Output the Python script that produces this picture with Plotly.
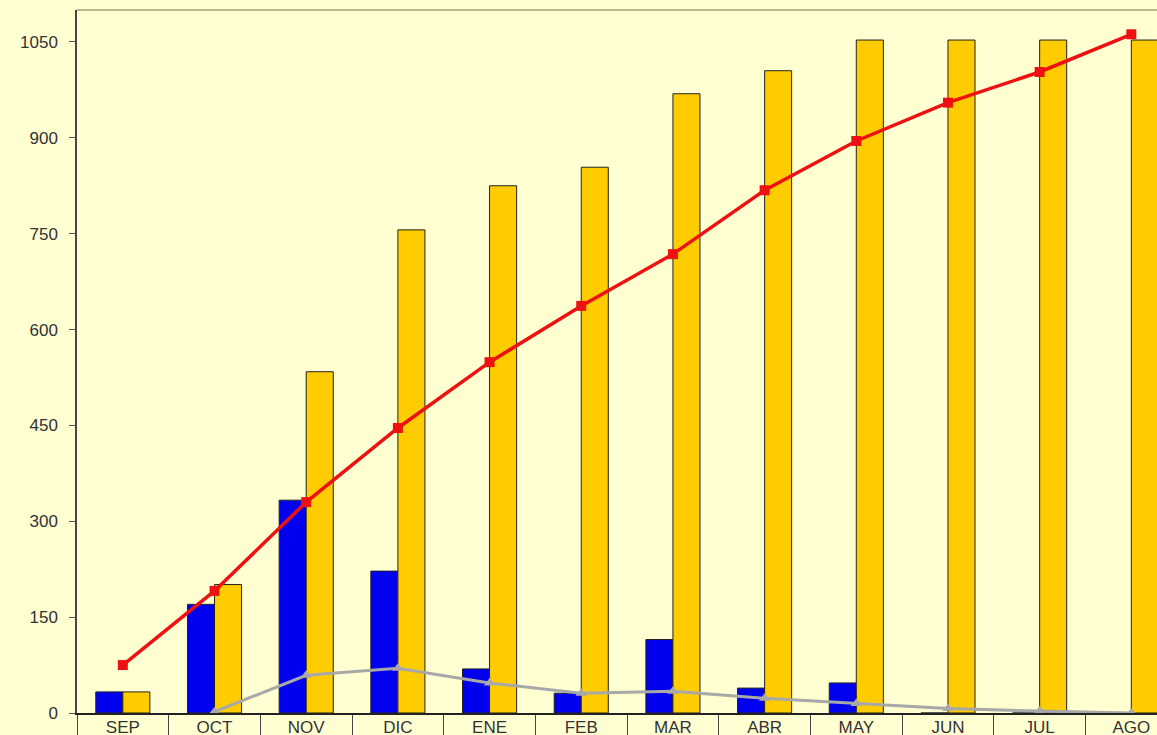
import plotly.graph_objects as go

months = ["SEP", "OCT", "NOV", "DIC", "ENE", "FEB", "MAR", "ABR", "MAY", "JUN", "JUL", "AGO"]
blue_vals = [33, 170, 333, 222, 69, 31, 115, 39, 47, 0, 0, 0]
yellow_vals = [33, 201, 534, 756, 825, 854, 969, 1005, 1053, 1053, 1053, 1053]
red_vals = [75, 191, 330, 446, 549, 637, 718, 818, 895, 955, 1003, 1062]
gray_months = months[1:]
gray_vals = [2, 59, 70, 47, 31, 34, 23, 15, 7, 3, 0]
y_ticks = [0, 150, 300, 450, 600, 750, 900, 1050]

BG = "#FFFFD2"

fig = go.Figure()
fig.add_trace(go.Bar(x=months, y=blue_vals, marker=dict(color="#0000EE", line=dict(color="#222222", width=1)), showlegend=False))
fig.add_trace(go.Bar(x=months, y=yellow_vals, marker=dict(color="#FFCC00", line=dict(color="#222222", width=1)), showlegend=False))
fig.add_trace(go.Scatter(x=gray_months, y=gray_vals, mode="lines+markers",
                         line=dict(color="#A8A8A8", width=3),
                         marker=dict(symbol="triangle-up", size=10, color="#A8A8A8"), showlegend=False))
fig.add_trace(go.Scatter(x=months, y=red_vals, mode="lines+markers",
                         line=dict(color="#EE1111", width=3.5),
                         marker=dict(symbol="square", size=10, color="#EE1111"), showlegend=False))

fig.update_layout(
    width=1157, height=735,
    margin=dict(l=77, r=0, t=10, b=22, autoexpand=False),
    paper_bgcolor=BG, plot_bgcolor=BG,
    barmode="group", bargap=0.41, bargroupgap=0,
    font=dict(family="Liberation Sans, Arial, sans-serif", size=16, color="#333333"),
    xaxis=dict(type="category", categoryorder="array", categoryarray=months,
               range=[-0.5, 11.28], showgrid=False, zeroline=False,
               showline=True, linecolor="#222222", linewidth=1.5,
               ticks="outside", tickson="boundaries", ticklen=25, tickcolor="#444444",
               ticklabelstandoff=-2, tickfont=dict(size=17, color="#333333")),
    yaxis=dict(range=[0, 1100], tickvals=y_ticks, showgrid=False, zeroline=False,
               showline=True, linecolor="#444444", linewidth=1.5,
               ticks="outside", ticklen=6, tickcolor="#555555",
               ticklabelstandoff=8, tickfont=dict(size=17, color="#333333")),
    shapes=[dict(type="line", xref="paper", yref="paper", x0=0, x1=1, y0=1, y1=1,
                 line=dict(color="#A8A07A", width=1.5))],
)

fig.write_html("out.html")
